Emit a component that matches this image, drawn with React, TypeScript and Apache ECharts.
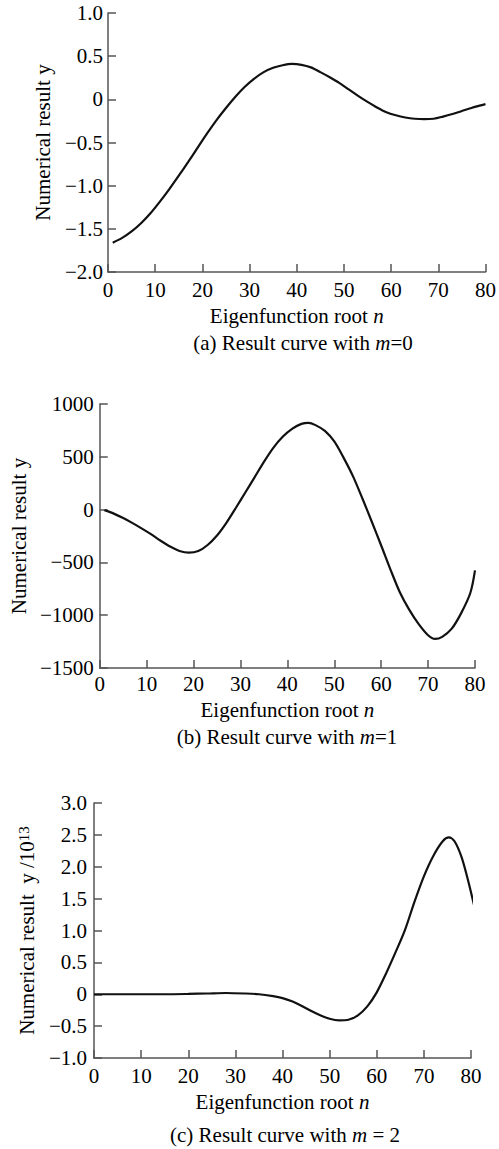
import React, { useEffect, useRef } from "react";
import * as echarts from "echarts";

// ---- Data ----
const nA = [1, 3, 5, 7, 9, 11, 13, 15, 17, 19, 21, 23, 25, 27, 29, 31, 33, 35, 37, 39, 41, 43, 45, 47, 49, 51, 53, 55, 57, 59, 61, 63, 65, 67, 69, 71, 73, 75, 77, 79, 80];
const yA = [-1.66, -1.605, -1.53, -1.435, -1.32, -1.185, -1.04, -0.885, -0.725, -0.56, -0.395, -0.24, -0.1, 0.03, 0.145, 0.24, 0.315, 0.365, 0.395, 0.41, 0.4, 0.37, 0.315, 0.255, 0.19, 0.115, 0.04, -0.03, -0.095, -0.15, -0.185, -0.21, -0.225, -0.23, -0.225, -0.2, -0.17, -0.135, -0.1, -0.07, -0.055];

const nB = [1, 3, 5, 7, 9, 11, 13, 15, 17, 19, 21, 23, 25, 27, 29, 31, 33, 35, 37, 39, 41, 43, 44.5, 46, 48, 50, 52, 54, 56, 58, 60, 62, 64, 66, 68, 70, 71.5, 73, 75, 77, 79, 80];
const yB = [-5, -38, -80, -128, -180, -235, -295, -350, -392, -408, -393, -335, -245, -125, 15, 160, 305, 452, 585, 690, 765, 812, 822, 800, 745, 645, 490, 315, 105, -115, -340, -570, -785, -950, -1085, -1190, -1225, -1205, -1130, -985, -790, -575];

const nC = [0, 5, 10, 15, 20, 24, 28, 32, 35, 38, 40, 42, 44, 46, 48, 50, 52, 54, 56, 58, 60, 62, 64, 66, 68, 70, 72, 74, 75.3, 76.5, 78, 79.5, 80.7];
const yC = [0, 0, 0, 0, 0.005, 0.012, 0.02, 0.012, 0, -0.03, -0.06, -0.11, -0.18, -0.26, -0.33, -0.385, -0.41, -0.4, -0.33, -0.19, 0.03, 0.33, 0.66, 1.01, 1.45, 1.85, 2.17, 2.4, 2.46, 2.4, 2.15, 1.75, 1.38];

const xTicks = { min: 0, max: 80, interval: 10 };
const yTicksA = { min: -2, max: 1, interval: 0.5 };
const yTicksB = { min: -1500, max: 1000, interval: 500 };
const yTicksC = { min: -1, max: 3, interval: 0.5 };

const captions = [
  "(a) Result curve with {i|m}=0",
  "(b) Result curve with {i|m}=1",
  "(c) Result curve with {i|m} = 2",
];

const FONT = '"Liberation Serif", "Times New Roman", Times, serif';
const AXIS_COLOR = "#555";
const FS = 21;

const fmtDec = (v: number) =>
  v === 0 ? "0" : (v < 0 ? "\u2212" : "") + Math.abs(v).toFixed(1);
const fmtInt = (v: number) =>
  v === 0 ? "0" : (v < 0 ? "\u2212" : "") + String(Math.abs(Math.round(v)));

const italicRich = {
  i: { fontStyle: "italic", fontFamily: FONT, fontSize: FS, color: "#000" },
  sup: { fontFamily: FONT, fontSize: 15, color: "#000", verticalAlign: "top" },
};

function xAxisFor(gridIndex: number, labelMargin: number, nameGap: number) {
  return {
    type: "value",
    gridIndex,
    ...xTicks,
    name: "Eigenfunction root {i|n}",
    nameLocation: "middle",
    nameGap,
    nameTextStyle: { fontFamily: FONT, fontSize: FS, color: "#000", rich: italicRich },
    axisLine: { show: true, onZero: false, lineStyle: { color: AXIS_COLOR, width: 1.5 } },
    axisTick: { show: true, inside: true, length: 8, lineStyle: { color: AXIS_COLOR, width: 1.5 } },
    axisLabel: { fontFamily: FONT, fontSize: FS, color: "#000", margin: labelMargin },
    splitLine: { show: false },
  };
}

function yAxisFor(
  gridIndex: number,
  ticks: { min: number; max: number; interval: number },
  name: string,
  nameGap: number,
  labelMargin: number,
  fmt: (v: number) => string
) {
  return {
    type: "value",
    gridIndex,
    ...ticks,
    name,
    nameLocation: "middle",
    nameGap,
    nameTextStyle: { fontFamily: FONT, fontSize: FS, color: "#000", rich: italicRich },
    axisLine: { show: true, onZero: false, lineStyle: { color: AXIS_COLOR, width: 1.5 } },
    axisTick: { show: true, inside: true, length: 8, lineStyle: { color: AXIS_COLOR, width: 1.5 } },
    axisLabel: { fontFamily: FONT, fontSize: FS, color: "#000", margin: labelMargin, formatter: fmt },
    splitLine: { show: false },
  };
}

function lineSeries(idx: number, ns: number[], ys: number[]) {
  return {
    type: "line",
    xAxisIndex: idx,
    yAxisIndex: idx,
    data: ns.map((n, i) => [n, ys[i]]),
    smooth: 0.3,
    showSymbol: false,
    symbol: "none",
    clip: false,
    lineStyle: { color: "#111", width: 2.2 },
  };
}

function caption(text: string, x: number, y: number) {
  return {
    type: "text",
    x,
    y,
    style: {
      text,
      rich: italicRich,
      fontFamily: FONT,
      fontSize: FS,
      fill: "#000",
      align: "center",
      verticalAlign: "middle",
      textAlign: "center",
      textVerticalAlign: "middle",
    },
  };
}

export default function App() {
  const ref = useRef<HTMLDivElement>(null);
  useEffect(() => {
    if (!ref.current) return;
    const chart = echarts.init(ref.current, undefined, { renderer: "svg" });
    chart.setOption({
      animation: false,
      backgroundColor: "#fff",
      grid: [
        { left: 108, top: 13, width: 378, height: 259 },
        { left: 98, top: 404, width: 377, height: 264 },
        { left: 94, top: 803, width: 377, height: 255 },
      ],
      xAxis: [xAxisFor(0, 7, 33), xAxisFor(1, 5, 31), xAxisFor(2, 7, 33)],
      yAxis: [
        yAxisFor(0, yTicksA, "Numerical result y", 55, 5, fmtDec),
        yAxisFor(1, yTicksB, "Numerical result y", 68, 6, fmtInt),
        yAxisFor(2, yTicksC, "Numerical result  y /10{sup|13}", 57, 7, fmtDec),
      ],
      series: [lineSeries(0, nA, yA), lineSeries(1, nB, yB), lineSeries(2, nC, yC)],
      graphic: [
        caption(captions[0], 303, 343),
        caption(captions[1], 287, 737),
        caption(captions[2], 285, 1135),
      ],
    });
    return () => chart.dispose();
  }, []);
  return (
    <div
      ref={ref}
      style={{ position: "absolute", left: 0, top: 0, width: 499, height: 1149, background: "#fff" }}
    />
  );
}
